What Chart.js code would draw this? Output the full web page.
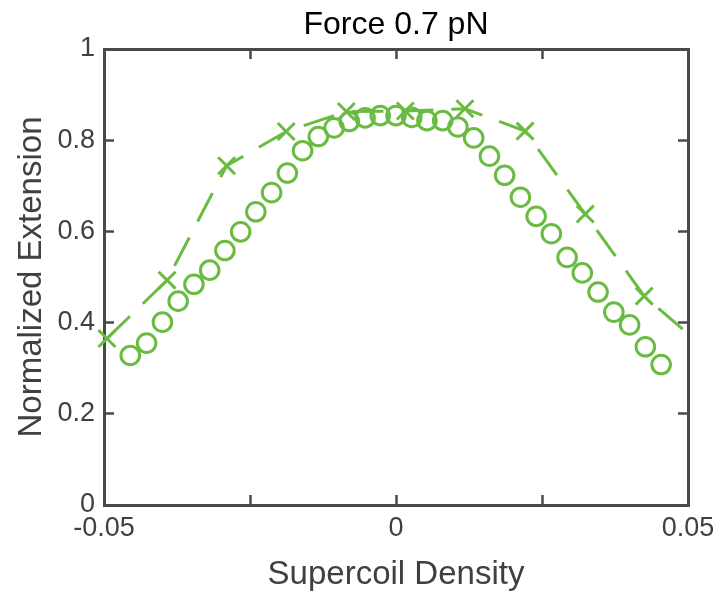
<!DOCTYPE html>
<html>
<head>
<meta charset="utf-8">
<script src="https://cdn.jsdelivr.net/npm/chart.js@4"></script>
<style>
html,body{margin:0;padding:0;background:#fff;}
#wrap{width:720px;height:595px;position:relative;}
</style>
</head>
<body>
<div id="wrap"><canvas id="c" width="720" height="595"></canvas></div>
<script>
const chartTitle = 'Force 0.7 pN';
const xTitle = 'Supercoil Density';
const yTitle = 'Normalized Extension';

const circleX = [-0.0455,-0.0427,-0.0400,-0.0373,-0.0346,-0.0319,-0.0293,-0.0266,-0.0240,-0.0213,-0.0186,-0.0160,-0.0133,-0.0106,-0.0080,-0.0053,-0.0027,0.0000,0.0027,0.0053,0.0080,0.0106,0.0133,0.0160,0.0186,0.0213,0.0240,0.0266,0.0293,0.0319,0.0346,0.0373,0.0400,0.0427,0.0454];
const circleY = [0.328,0.355,0.401,0.447,0.484,0.515,0.558,0.599,0.643,0.685,0.728,0.777,0.808,0.827,0.841,0.849,0.854,0.854,0.850,0.843,0.843,0.829,0.805,0.765,0.723,0.675,0.633,0.595,0.543,0.509,0.467,0.423,0.395,0.347,0.308];

const crossX = [-0.0495,-0.0392,-0.0290,-0.0188,-0.0085,0.0016,0.0118,0.0221,0.0324,0.0425,0.0528];
const crossY = [0.365,0.493,0.744,0.819,0.863,0.864,0.869,0.820,0.638,0.458,0.345];

const xTicks = [-0.05,-0.025,0,0.025,0.05];
const xTickLabels = ['-0.05','','0','','0.05'];
const yTicks = [0,0.2,0.4,0.6,0.8,1];
const yTickLabels = ['0','0.2','0.4','0.6','0.8','1'];

const green = 'rgb(106,187,66)';
const axisColor = '#4a4a4a';
const textColor = '#404040';
const FONT = "'Liberation Sans', Arial, Helvetica, sans-serif";

const toPts = (xs, ys) => xs.map((x, i) => ({x: x, y: ys[i]}));

function fixTicks(vals) {
  return function(scale) { scale.ticks = vals.map(v => ({value: v})); };
}
function fitH(h) {
  return function(s) { s.height = h; s.paddingLeft = 0; s.paddingRight = 0; };
}
function fitW(w) {
  return function(s) { s.width = w; s.paddingTop = 0; s.paddingBottom = 0; };
}

new Chart(document.getElementById('c'), {
  type: 'scatter',
  data: {
    datasets: [
      {
        label: 'crosses',
        data: toPts(crossX, crossY),
        showLine: true,
        borderColor: green,
        backgroundColor: green,
        borderWidth: 3,
        borderDash: [32, 18],
        pointStyle: 'crossRot',
        pointRadius: 12,
        pointBorderWidth: 3,
        pointBorderColor: green,
        tension: 0,
        clip: {left: 14, right: 0, top: 0, bottom: 0}
      },
      {
        label: 'circles',
        data: toPts(circleX, circleY),
        showLine: false,
        borderColor: green,
        backgroundColor: 'rgba(0,0,0,0)',
        pointStyle: 'circle',
        pointRadius: 9.3,
        pointBorderWidth: 3,
        pointBorderColor: green,
        pointBackgroundColor: 'rgba(0,0,0,0)',
        clip: false
      }
    ]
  },
  options: {
    responsive: false,
    animation: false,
    events: [],
    layout: {padding: 0},
    plugins: {legend: {display: false}, tooltip: {enabled: false}, title: {display: false}},
    scales: {
      x: {
        type: 'linear', position: 'bottom', min: -0.05, max: 0.05,
        afterBuildTicks: fixTicks(xTicks),
        afterFit: fitH(90),
        border: {display: true, color: axisColor, width: 3},
        grid: {display: true, drawOnChartArea: false, drawTicks: true, tickLength: -10, tickColor: axisColor, tickWidth: 2.5},
        ticks: {
          color: textColor, font: {family: FONT, size: 27}, padding: 17, maxRotation: 0, autoSkip: false,
          callback: (v, i) => xTickLabels[i]
        },
        title: {display: true, text: xTitle, color: textColor, font: {family: FONT, size: 33}, padding: {top: 0, bottom: 0}}
      },
      x2: {
        type: 'linear', position: 'top', min: -0.05, max: 0.05,
        afterBuildTicks: fixTicks(xTicks),
        afterFit: fitH(49),
        border: {display: true, color: axisColor, width: 3},
        grid: {display: true, drawOnChartArea: false, drawTicks: true, tickLength: -10, tickColor: axisColor, tickWidth: 2.5},
        ticks: {display: true, callback: () => '', font: {size: 1}, padding: 0},
        title: {display: true, text: chartTitle, color: '#000', font: {family: FONT, size: 32}, padding: {top: 6, bottom: 0}}
      },
      y: {
        type: 'linear', position: 'left', min: 0, max: 1,
        afterBuildTicks: fixTicks(yTicks),
        afterFit: fitW(104),
        border: {display: true, color: axisColor, width: 3},
        grid: {display: true, drawOnChartArea: false, drawTicks: true, tickLength: -10, tickColor: axisColor, tickWidth: 2.5},
        ticks: {
          color: textColor, font: {family: FONT, size: 27}, padding: 19, autoSkip: false,
          callback: (v, i) => yTickLabels[i]
        },
        title: {display: true, text: yTitle, color: textColor, font: {family: FONT, size: 33}, padding: {top: 12, bottom: 0}}
      },
      y2: {
        type: 'linear', position: 'right', min: 0, max: 1,
        afterBuildTicks: fixTicks(yTicks),
        afterFit: fitW(32),
        border: {display: true, color: axisColor, width: 3},
        grid: {display: true, drawOnChartArea: false, drawTicks: true, tickLength: -10, tickColor: axisColor, tickWidth: 2.5},
        ticks: {display: true, callback: () => '', font: {size: 1}, padding: 0}
      }
    }
  }
});
</script>
</body>
</html>
